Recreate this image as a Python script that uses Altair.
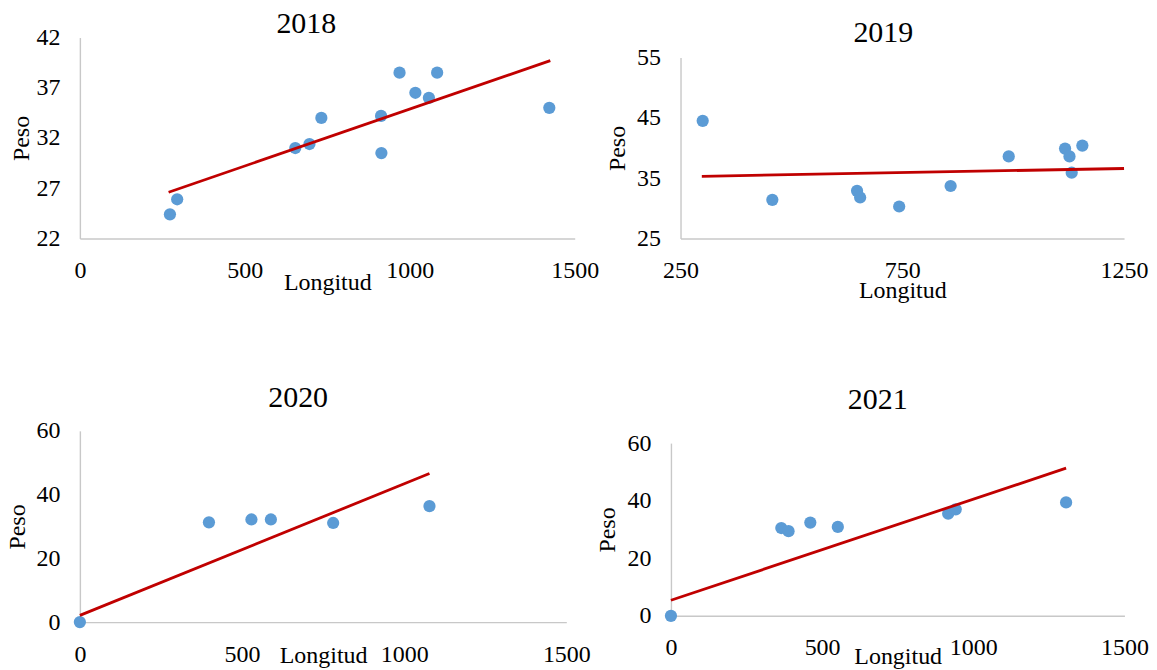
import altair as alt
import pandas as pd

FONT = "Liberation Serif"
BLUE = "#5B9BD5"
RED = "#C00000"
AXIS_COLOR = "#C8C8C8"

# ---- data ----
years = ["2018", "2019", "2020", "2021"]

long_2018 = [273, 295, 653, 696, 732, 913, 914, 969, 1017, 1058, 1083, 1423]
peso_2018 = [24.4, 25.9, 31.0, 31.4, 34.0, 34.2, 30.5, 38.5, 36.5, 36.0, 38.5, 35.0]
trend_long_2018 = [269, 1426]
trend_peso_2018 = [26.6, 39.7]

long_2019 = [300, 457, 648, 655, 743, 859, 990, 1117, 1127, 1132, 1156]
peso_2019 = [44.5, 31.4, 32.9, 31.8, 30.3, 33.7, 38.6, 39.9, 38.6, 35.9, 40.4]
trend_long_2019 = [298, 1250]
trend_peso_2019 = [35.3, 36.6]

long_2020 = [0, 398, 529, 589, 781, 1078]
peso_2020 = [0, 31.3, 32.2, 32.2, 31.1, 36.4]
trend_long_2020 = [0, 1078]
trend_peso_2020 = [2.1, 46.6]

long_2021 = [0, 365, 389, 461, 552, 917, 942, 1307]
peso_2021 = [0, 30.5, 29.4, 32.4, 30.9, 35.5, 37.0, 39.4]
trend_long_2021 = [0, 1307]
trend_peso_2021 = [5.4, 51.3]

x_ticks_2018 = [0, 500, 1000, 1500]
y_ticks_2018 = [22, 27, 32, 37, 42]
x_ticks_2019 = [250, 750, 1250]
y_ticks_2019 = [25, 35, 45, 55]
x_ticks_2020 = [0, 500, 1000, 1500]
y_ticks_2020 = [0, 20, 40, 60]
x_ticks_2021 = [0, 500, 1000, 1500]
y_ticks_2021 = [0, 20, 40, 60]


def panel(title, xs, ys, txs, tys, xdom, xticks, ydom, yticks,
          width, height, yrange, tdx, tdy, xtitle_y, ytitle_x, xoffset=0):
    pts = pd.DataFrame({"Longitud": xs, "Peso": ys})
    trend = pd.DataFrame({"Longitud": txs, "Peso": tys})
    xenc = alt.X(
        "Longitud:Q",
        scale=alt.Scale(domain=xdom, nice=False, zero=False),
        axis=alt.Axis(values=xticks, format="d", title="Longitud", titleY=xtitle_y,
                      titleBaseline="alphabetic", offset=xoffset,
                      labelPadding=20),
    )
    yenc = alt.Y(
        "Peso:Q",
        scale=alt.Scale(domain=ydom, range=yrange, nice=False, zero=False),
        axis=alt.Axis(values=yticks, format="d", title="Peso", titleX=ytitle_x,
                      titleBaseline="alphabetic", labelPadding=20),
    )
    points = alt.Chart(pts).mark_circle(size=150, color=BLUE, opacity=1).encode(x=xenc, y=yenc)
    line = alt.Chart(trend).mark_line(color=RED, strokeWidth=2.8).encode(x=xenc, y=yenc)
    return alt.layer(points, line).properties(
        width=width, height=height,
        title=alt.TitleParams(title, font=FONT, fontSize=30, fontWeight="normal",
                              color="black", anchor="middle", baseline="alphabetic",
                              offset=0, dx=tdx, dy=tdy),
    )


p1 = panel(years[0], long_2018, peso_2018, trend_long_2018, trend_peso_2018,
           [0, 1500], x_ticks_2018, [22, 42], y_ticks_2018,
           495.7, 201.3, [201.3, 0], -21, 37.6, 51, -51.8)
p2 = panel(years[1], long_2019, peso_2019, trend_long_2019, trend_peso_2019,
           [250, 1250], x_ticks_2019, [25, 55], y_ticks_2019,
           444.3, 201.3, [201.3, 20], -19, 34.6, 58.7, -55.7)
p3 = panel(years[2], long_2020, peso_2020, trend_long_2020, trend_peso_2020,
           [0, 1500], x_ticks_2020, [0, 60], y_ticks_2020,
           487.3, 191.6, [191.6, 0], -25, 18.2, 40, -55.5)
p4 = panel(years[3], long_2021, peso_2021, trend_long_2021, trend_peso_2021,
           [0, 1500], x_ticks_2021, [0, 60], y_ticks_2021,
           454.3, 191.6, [185.3, 12.3], -20, 8.2, 48, -56.7, xoffset=-6.3)

row1 = alt.hconcat(p1, p2, spacing=105.7, bounds="flush")
row2 = alt.hconcat(p3, p4, spacing=104.1, bounds="flush")

# nested rows count as zero height under "flush", so the spacing spans row 1's plot too
chart = alt.vconcat(row1, row2, spacing=201.3 + 192.7, bounds="flush").properties(
    padding={"left": -3, "top": 0, "right": 0, "bottom": 0}
).configure_view(stroke=None).configure_axis(
    grid=False,
    ticks=False,
    tickSize=0,
    domainColor=AXIS_COLOR,
    domainWidth=1.4,
    labelFont=FONT,
    labelFontSize=24,
    labelColor="black",
    labelFlush=False,
    labelOverlap=False,
    titleFont=FONT,
    titleFontSize=24,
    titleFontWeight="normal",
    titleColor="black",
)

chart.save("out.html", embed_options={"renderer": "svg", "actions": False})
